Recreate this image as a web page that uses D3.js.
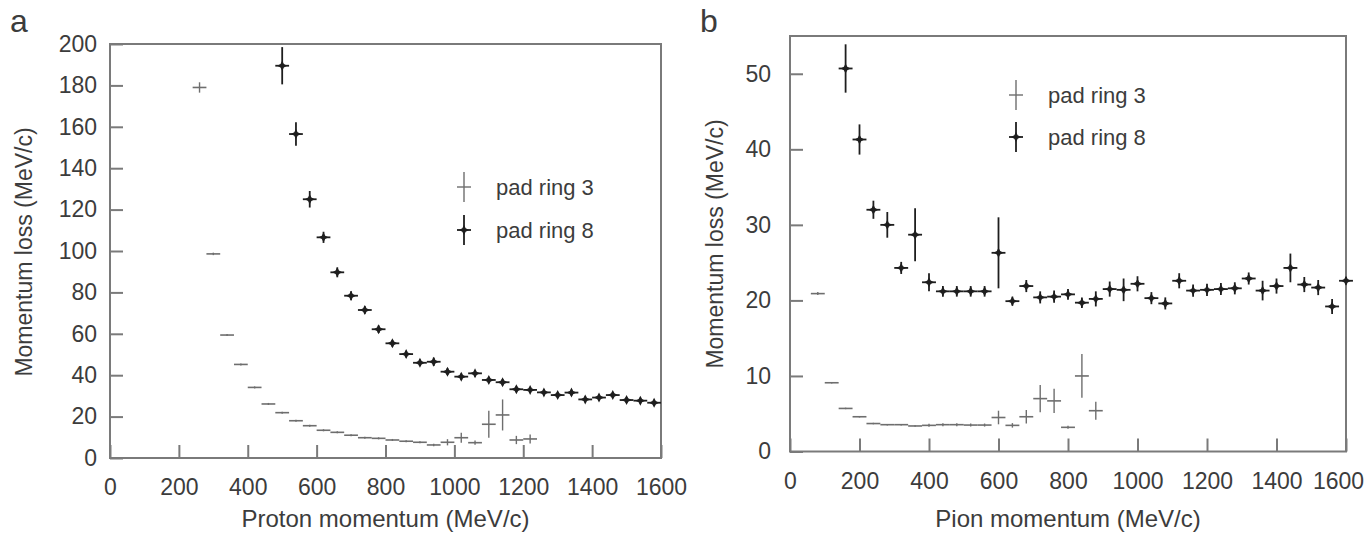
<!DOCTYPE html>
<html>
<head>
<meta charset="utf-8">
<script src="https://cdn.jsdelivr.net/npm/d3@7"></script>
<style>
  body { margin: 0; background: #fff; }
  text { font-family: "Liberation Sans", Arial, sans-serif; fill: #3c3c3c; }
</style>
</head>
<body>
<div id="chart-area"></div>
<script>
// panel a - protons
var protonRing3X = [260, 300, 340, 380, 420, 460, 500, 540, 580, 620, 660, 700, 740, 780, 820, 860, 900, 940, 980, 1020, 1060, 1100, 1140, 1180, 1220];
var protonRing3Y = [179, 98.6, 59.4, 45.2, 34.1, 26.1, 21.9, 18.0, 15.6, 13.4, 12.4, 11.0, 9.8, 9.5, 8.7, 8.1, 7.6, 6.3, 7.6, 9.8, 7.4, 16.3, 20.8, 8.7, 9.2];
var protonRing3Err = [2.5, 0.6, 0.5, 0.5, 0.5, 0.5, 0.5, 0.5, 0.5, 0.5, 0.5, 0.5, 0.5, 0.5, 0.5, 0.5, 0.5, 0.6, 1.5, 2.4, 1.0, 6.5, 7.5, 2.0, 2.2];

var protonRing8X = [500, 540, 580, 620, 660, 700, 740, 780, 820, 860, 900, 940, 980, 1020, 1060, 1100, 1140, 1180, 1220, 1260, 1300, 1340, 1380, 1420, 1460, 1500, 1540, 1580];
var protonRing8Y = [189.5, 156.5, 125, 106.6, 89.7, 78.4, 71.5, 62.2, 55.4, 50.2, 46.0, 46.5, 41.7, 39.3, 40.9, 37.7, 36.6, 33.2, 32.9, 31.7, 30.4, 31.6, 28.3, 29.2, 30.4, 28.0, 27.7, 26.7];
var protonRing8Err = [9, 5.7, 4, 2.7, 2.4, 2.2, 1.8, 1.8, 1.6, 1.6, 1.6, 2.0, 1.6, 1.5, 1.5, 1.5, 1.5, 1.4, 1.4, 1.4, 1.4, 1.4, 1.4, 1.4, 1.4, 1.4, 1.4, 1.4];

// panel b - pions
var pionRing3X = [80, 120, 160, 200, 240, 280, 320, 360, 400, 440, 480, 520, 560, 600, 640, 680, 720, 760, 800, 840, 880];
var pionRing3Y = [20.9, 9.1, 5.7, 4.6, 3.7, 3.55, 3.55, 3.38, 3.46, 3.55, 3.55, 3.5, 3.5, 4.5, 3.46, 4.6, 7.0, 6.7, 3.2, 10.0, 5.4];
var pionRing3Err = [0.2, 0.1, 0.1, 0.1, 0.1, 0.1, 0.1, 0.1, 0.2, 0.2, 0.2, 0.2, 0.2, 0.9, 0.3, 0.9, 1.8, 1.6, 0.2, 2.9, 1.2];

var pionRing8X = [160, 200, 240, 280, 320, 360, 400, 440, 480, 520, 560, 600, 640, 680, 720, 760, 800, 840, 880, 920, 960, 1000, 1040, 1080, 1120, 1160, 1200, 1240, 1280, 1320, 1360, 1400, 1440, 1480, 1520, 1560, 1600];
var pionRing8Y = [50.7, 41.3, 32.0, 30.0, 24.3, 28.7, 22.4, 21.2, 21.2, 21.2, 21.2, 26.3, 19.9, 21.9, 20.4, 20.5, 20.8, 19.7, 20.2, 21.5, 21.4, 22.2, 20.3, 19.6, 22.6, 21.3, 21.4, 21.5, 21.6, 22.9, 21.3, 21.9, 24.3, 22.1, 21.7, 19.2, 22.6];
var pionRing8Err = [3.2, 2.0, 1.2, 1.7, 0.8, 3.5, 1.2, 0.7, 0.7, 0.7, 0.7, 4.7, 0.6, 0.8, 0.8, 0.8, 0.7, 0.7, 1.0, 1.0, 1.5, 1.0, 0.8, 0.8, 1.0, 0.8, 0.8, 0.8, 0.8, 0.8, 1.3, 1.0, 1.9, 1.0, 1.0, 1.0, 0.5];

var binHalf = 20;

var xTicks = [0, 200, 400, 600, 800, 1000, 1200, 1400, 1600];
var yTicksA = [0, 20, 40, 60, 80, 100, 120, 140, 160, 180, 200];
var yTicksB = [0, 10, 20, 30, 40, 50];

var seriesNames = ["pad ring 3", "pad ring 8"];

var svg = d3.select("#chart-area")
    .append("svg")
        .attr("width", 1367)
        .attr("height", 540);

function zip(xs, ys, es) {
    return xs.map(function(x, i){ return { x: x, y: ys[i], e: es[i] }; });
}

var starPath = "M0,-5 L1.7,-1.7 L5,0 L1.7,1.7 L0,5 L-1.7,1.7 L-5,0 L-1.7,-1.7 Z";

function drawPanel(opt) {
    var x = d3.scaleLinear().domain([0, 1600]).range([opt.left, opt.right]);
    var y = d3.scaleLinear().domain([0, opt.yMax]).range([opt.bottom, opt.top]);

    var g = svg.append("g");

    // Frame
    g.append("rect")
        .attr("x", opt.left)
        .attr("y", opt.top)
        .attr("width", opt.right - opt.left)
        .attr("height", opt.bottom - opt.top)
        .attr("fill", "none")
        .attr("stroke", "#7a7a7a")
        .attr("stroke-width", 2);

    // X Axis (ticks point inward)
    var xAxisCall = d3.axisBottom(x)
        .tickValues(xTicks)
        .tickFormat(d3.format("d"))
        .tickSizeInner(-13)
        .tickSizeOuter(0)
        .tickPadding(21);
    var xAxisGroup = g.append("g")
        .attr("transform", "translate(0," + opt.bottom + ")")
        .call(xAxisCall);

    // Y Axis
    var yAxisCall = d3.axisLeft(y)
        .tickValues(opt.yTicks)
        .tickFormat(d3.format("d"))
        .tickSizeInner(-13)
        .tickSizeOuter(0)
        .tickPadding(opt.yPad);
    var yAxisGroup = g.append("g")
        .attr("transform", "translate(" + opt.left + ",0)")
        .call(yAxisCall);

    [xAxisGroup, yAxisGroup].forEach(function(ax){
        ax.select(".domain").remove();
        ax.selectAll("line").attr("stroke", "#7a7a7a").attr("stroke-width", 2);
        ax.selectAll("text")
            .attr("font-size", "23px")
            .attr("font-family", "Liberation Sans, Arial, sans-serif")
            .attr("fill", "#3c3c3c");
    });
    // keep the last x label inside the page
    xAxisGroup.selectAll(".tick text")
        .filter(function(d){ return d === 1600; })
        .attr("dx", opt.lastDx);

    // X Label
    g.append("text")
        .attr("x", (opt.left + opt.right) / 2)
        .attr("y", 527)
        .attr("font-size", "24px")
        .attr("text-anchor", "middle")
        .text(opt.xLabel);

    // Y Label
    g.append("text")
        .attr("x", -opt.yLabelMid)
        .attr("y", opt.yLabelX)
        .attr("font-size", "23px")
        .attr("text-anchor", "middle")
        .attr("transform", "rotate(-90)")
        .text("Momentum loss (MeV/c)");

    // Panel letter
    g.append("text")
        .attr("x", opt.letterX)
        .attr("y", 32)
        .attr("font-size", "32px")
        .text(opt.letter);

    // pad ring 3 - thin gray crosses
    var r3 = g.selectAll(".r3")
        .data(zip(opt.r3x, opt.r3y, opt.r3e))
        .enter().append("g")
            .attr("class", "r3");
    r3.append("line")
        .attr("x1", function(d){ return x(d.x - binHalf); })
        .attr("x2", function(d){ return x(d.x + binHalf); })
        .attr("y1", function(d){ return y(d.y); })
        .attr("y2", function(d){ return y(d.y); })
        .attr("stroke", "#6e6e6e")
        .attr("stroke-width", 1.6);
    r3.append("line")
        .attr("x1", function(d){ return x(d.x); })
        .attr("x2", function(d){ return x(d.x); })
        .attr("y1", function(d){ return y(d.y + d.e); })
        .attr("y2", function(d){ return y(d.y - d.e); })
        .attr("stroke", "#6e6e6e")
        .attr("stroke-width", 1.4);

    // pad ring 8 - dark crosses with star marker
    var r8 = g.selectAll(".r8")
        .data(zip(opt.r8x, opt.r8y, opt.r8e))
        .enter().append("g")
            .attr("class", "r8");
    r8.append("line")
        .attr("x1", function(d){ return x(d.x - binHalf); })
        .attr("x2", function(d){ return x(d.x + binHalf); })
        .attr("y1", function(d){ return y(d.y); })
        .attr("y2", function(d){ return y(d.y); })
        .attr("stroke", "#1e1e1e")
        .attr("stroke-width", 1.8);
    r8.append("line")
        .attr("x1", function(d){ return x(d.x); })
        .attr("x2", function(d){ return x(d.x); })
        .attr("y1", function(d){ return y(d.y + d.e); })
        .attr("y2", function(d){ return y(d.y - d.e); })
        .attr("stroke", "#1e1e1e")
        .attr("stroke-width", 1.8);
    r8.append("path")
        .attr("d", starPath)
        .attr("transform", function(d){ return "translate(" + x(d.x) + "," + y(d.y) + ")"; })
        .attr("fill", "#1e1e1e");

    // Legend
    var leg = g.append("g")
        .attr("transform", "translate(" + opt.legX + "," + opt.legY + ")");
    seriesNames.forEach(function(name, i){
        var row = leg.append("g").attr("transform", "translate(0," + (i * opt.legGap) + ")");
        var col = i === 0 ? "#6e6e6e" : "#1e1e1e";
        var w = i === 0 ? 1.4 : 1.8;
        row.append("line")
            .attr("x1", -7).attr("x2", 7).attr("y1", 0).attr("y2", 0)
            .attr("stroke", col).attr("stroke-width", w);
        row.append("line")
            .attr("x1", 0).attr("x2", 0).attr("y1", -15).attr("y2", 15)
            .attr("stroke", col).attr("stroke-width", w);
        if (i === 1) {
            row.append("path").attr("d", starPath).attr("fill", col);
        }
        row.append("text")
            .attr("x", 32)
            .attr("y", 8)
            .attr("font-size", "22px")
            .text(name);
    });
}

drawPanel({
    left: 110, right: 661, top: 44, bottom: 458, yMax: 200,
    yTicks: yTicksA, yPad: 13, lastDx: 0, xLabel: "Proton momentum (MeV/c)",
    yLabelX: 32, yLabelMid: 252, letter: "a", letterX: 10,
    r3x: protonRing3X, r3y: protonRing3Y, r3e: protonRing3Err,
    r8x: protonRing8X, r8y: protonRing8Y, r8e: protonRing8Err,
    legX: 464, legY: 187, legGap: 43
});

drawPanel({
    left: 790, right: 1346, top: 36, bottom: 451.5, yMax: 55,
    yTicks: yTicksB, yPad: 19, lastDx: -8, xLabel: "Pion momentum (MeV/c)",
    yLabelX: 723, yLabelMid: 244, letter: "b", letterX: 700,
    r3x: pionRing3X, r3y: pionRing3Y, r3e: pionRing3Err,
    r8x: pionRing8X, r8y: pionRing8Y, r8e: pionRing8Err,
    legX: 1016, legY: 95, legGap: 42
});
</script>
</body>
</html>
